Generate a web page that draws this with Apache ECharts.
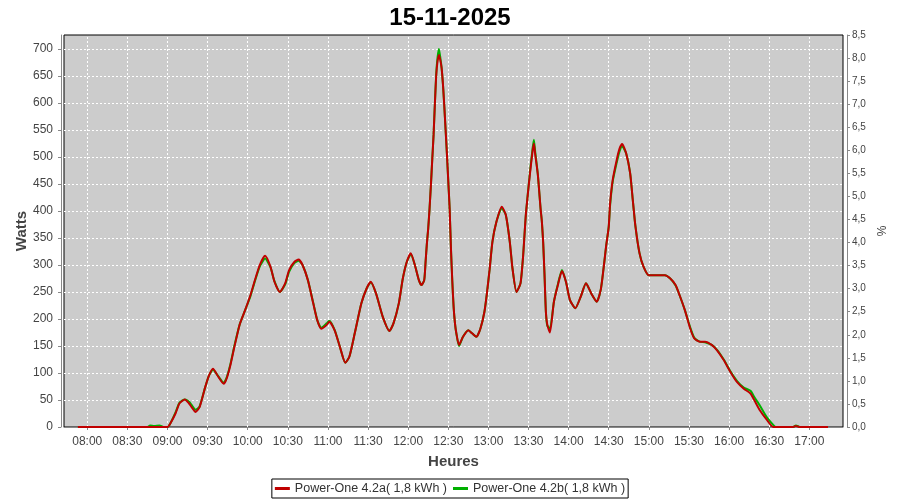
<!DOCTYPE html>
<html><head><meta charset="utf-8">
<script src="https://cdn.jsdelivr.net/npm/echarts@6/dist/echarts.min.js"></script>
<style>html,body{margin:0;padding:0;background:#fff}#c{width:900px;height:500px}</style>
</head><body><div id="c"></div>
<script>
const chartTitle = '15-11-2025';
const seriesNames = ['Power-One 4.2a( 1,8 kWh )', 'Power-One 4.2b( 1,8 kWh )'];
const times = ['07:53','08:00','08:30','08:45','08:47','08:50','08:54','08:57','09:00','09:02','09:06','09:09','09:13','09:16','09:18','09:21','09:24','09:28','09:31','09:34','09:38','09:42','09:44','09:47','09:50','09:54','09:58','10:02','10:05','10:09','10:13','10:17','10:20','10:24','10:28','10:31','10:35','10:38','10:41','10:45','10:49','10:52','10:55','10:59','11:01','11:05','11:09','11:13','11:16','11:20','11:25','11:29','11:32','11:36','11:41','11:46','11:49','11:53','11:56','11:59','12:02','12:05','12:08','12:10','12:12','12:13','12:14','12:15','12:16','12:17','12:18','12:19','12:20','12:21','12:22','12:23','12:24','12:25','12:26','12:27','12:28','12:29','12:30','12:31','12:32','12:33','12:34','12:35','12:36','12:38','12:41','12:45','12:48','12:51','12:54','12:57','12:59','13:01','13:03','13:06','13:10','13:13','13:16','13:18','13:21','13:24','13:26','13:28','13:31','13:33','13:34','13:35','13:37','13:39','13:40','13:41','13:42','13:43','13:44','13:46','13:49','13:52','13:55','13:58','14:01','14:05','14:09','14:13','14:17','14:21','14:24','14:26','14:28','14:30','14:31','14:33','14:36','14:38','14:40','14:43','14:46','14:48','14:50','14:53','14:56','15:00','15:06','15:12','15:16','15:20','15:23','15:27','15:31','15:34','15:38','15:42','15:47','15:51','15:56','16:01','16:06','16:11','16:16','16:19','16:23','16:28','16:33','16:35','16:48','16:50','16:53','17:14'];
const redValues = [0,0,0,0,0,0,0,0,0,6,25,44,51,44,37,28,37,72,95,108,93,80,88,114,148,190,216,244,269,300,317,297,269,250,266,291,306,310,300,272,229,198,182,189,195,179,148,119,130,173,229,257,269,247,204,178,192,229,275,306,322,300,272,263,272,305,340,368,405,448,495,541,600,652,678,689,680,665,635,595,550,505,455,405,330,270,222,192,174,152,167,179,173,167,182,213,250,294,343,380,408,393,343,294,250,266,318,393,467,510,525,505,467,405,380,340,280,213,190,175,232,263,289,269,235,220,241,266,247,232,254,291,334,371,414,458,495,515,524,507,470,420,371,322,297,281,281,281,275,263,244,216,182,164,158,158,152,142,124,102,83,71,62,49,31,14,0,0,0,2,0,0];
const greenValues = [0,0,0,0,3,2,3,0,0,6,27,45,51,47,41,32,38,72,95,106,94,82,90,116,150,190,216,242,267,297,312,296,270,250,264,288,304,308,300,272,230,198,184,192,197,180,148,119,130,173,229,257,268,247,204,178,192,229,275,306,320,300,272,263,272,305,340,368,405,448,495,541,600,655,685,700,685,665,635,595,550,505,455,405,330,270,222,192,174,150,167,179,173,167,182,213,250,294,343,380,405,393,343,294,250,266,318,393,470,515,532,510,467,405,380,340,280,213,188,182,232,265,291,269,235,220,241,266,247,232,254,291,334,371,410,455,490,510,520,507,470,420,371,322,297,281,281,281,275,262,244,216,184,165,158,157,152,143,125,103,85,73,67,55,40,19,4,0,0,3,0,0];
const xTickLabels = ['08:00','08:30','09:00','09:30','10:00','10:30','11:00','11:30','12:00','12:30','13:00','13:30','14:00','14:30','15:00','15:30','16:00','16:30','17:00'];

function toMin(hm){ const p = hm.split(':'); return (+p[0]) * 60 + (+p[1]); }
function pad(n){ return (n<10?'0':'')+n; }
const xTickValues = xTickLabels.map(toMin);
const redData = times.map((t,i)=>[toMin(t), redValues[i]]);
const greenData = times.map((t,i)=>[toMin(t), greenValues[i]]);

const chart = echarts.init(document.getElementById('c'), null, {renderer:'canvas'});
const labelColor = '#444444';
const axisGray = '#888888';
const gridLine = { color: '#ffffff', type: [2, 2], width: 1 };
const fmtMin = v => pad(Math.floor(v / 60)) + ':' + pad(Math.round(v % 60));
chart.setOption({
  animation: false,
  backgroundColor: '#ffffff',
  title: { text: chartTitle, left: 'center', top: 1,
    textStyle: { fontFamily: 'Liberation Sans', fontWeight: 'bold', fontSize: 24, color: '#000' } },
  legend: { bottom: 2, left: 'center', icon: 'rect', itemWidth: 15, itemHeight: 3, itemGap: 6,
    borderColor: '#000', borderWidth: 1, padding: [3, 3], borderRadius: 0,
    textStyle: { fontFamily: 'Liberation Sans', fontSize: 12.5, color: '#333' },
    data: seriesNames },
  grid: { left: 64, right: 57, top: 35, bottom: 73, show: true, backgroundColor: '#cccccc',
    borderColor: '#000000', borderWidth: 1 },
  xAxis: {
    type: 'value',
    min: 462.6, max: 1045.2,
    offset: 3,
    name: 'Heures', nameLocation: 'middle', nameGap: 24, nameMoveOverlap: false,
    nameTextStyle: { fontFamily: 'Liberation Sans', fontWeight: 'bold', fontSize: 15, color: labelColor },
    axisLine: { show: true, lineStyle: { color: axisGray } },
    axisTick: { show: true, length: 3, lineStyle: { color: axisGray }, customValues: xTickValues },
    axisLabel: { fontFamily: 'Liberation Sans', fontSize: 12, color: labelColor, margin: 6,
      customValues: xTickValues, formatter: fmtMin },
    splitLine: { show: false }
  },
  yAxis: [{
    type: 'value', min: 0, max: 726, interval: 50, offset: 3,
    name: 'Watts', nameLocation: 'middle', nameGap: 32, nameMoveOverlap: false,
    nameTextStyle: { fontFamily: 'Liberation Sans', fontWeight: 'bold', fontSize: 15, color: labelColor },
    axisLine: { show: true, lineStyle: { color: axisGray } },
    axisTick: { show: true, length: 3, lineStyle: { color: axisGray } },
    axisLabel: { fontFamily: 'Liberation Sans', fontSize: 12, color: labelColor, margin: 8, showMaxLabel: false },
    splitLine: { show: true, showMinLine: false, showMaxLine: false, lineStyle: gridLine }
  }, {
    type: 'value', min: 0, max: 8.5, interval: 0.5, offset: 4, position: 'right',
    name: '%', nameLocation: 'middle', nameGap: 30, nameMoveOverlap: false,
    nameTextStyle: { fontFamily: 'Liberation Sans', fontSize: 12, color: labelColor },
    axisLine: { show: true, lineStyle: { color: axisGray } },
    axisTick: { show: true, length: 3, lineStyle: { color: axisGray } },
    axisLabel: { fontFamily: 'Liberation Sans', fontSize: 10, color: labelColor, margin: 5,
      formatter: v => v.toFixed(1).replace('.', ',') },
    splitLine: { show: false }
  }],
  series: [{
    type: 'line', data: [], z: 1, silent: true,
    markLine: { silent: true, z: 1, symbol: ['none', 'none'], label: { show: false }, animation: false,
      lineStyle: gridLine, emphasis: { disabled: true },
      data: xTickValues.map(v => ({ xAxis: v })) }
  }, {
    name: seriesNames[0], type: 'line', data: redData, showSymbol: false, smooth: 0.2, z: 3,
    color: '#c00000', lineStyle: { color: '#c00000', width: 2 }
  }, {
    name: seriesNames[1], type: 'line', data: greenData, showSymbol: false, smooth: 0.2, z: 2,
    color: '#00b000', lineStyle: { color: '#00b000', width: 2 }
  }]
});
</script></body></html>
